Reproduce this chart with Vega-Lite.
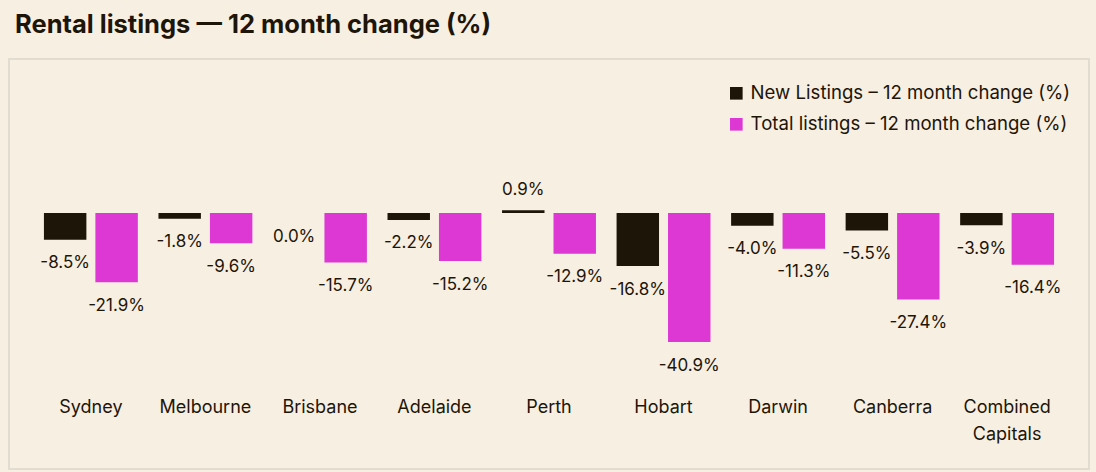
{
  "$schema": "https://vega.github.io/schema/vega-lite/v6.json",
  "width": 1080,
  "height": 410,
  "autosize": {"type": "none"},
  "padding": {"left": 9, "top": 59, "right": 7, "bottom": 3},
  "background": "#f7efe2",
  "title": {
    "text": "Rental listings — 12 month change (%)",
    "anchor": "start",
    "frame": "group",
    "font": "Inter",
    "fontSize": 25.5,
    "fontWeight": "bold",
    "color": "#1e1509",
    "offset": 21,
    "dx": 6
  },
  "config": {
    "view": {"stroke": "#e2dbd0", "strokeWidth": 2},
    "font": "Inter"
  },
  "data": {
    "values": [
      {"city": "Sydney", "series": "New Listings – 12 month change (%)", "v": -8.5},
      {"city": "Sydney", "series": "Total listings – 12 month change (%)", "v": -21.9},
      {"city": "Melbourne", "series": "New Listings – 12 month change (%)", "v": -1.8},
      {"city": "Melbourne", "series": "Total listings – 12 month change (%)", "v": -9.6},
      {"city": "Brisbane", "series": "New Listings – 12 month change (%)", "v": 0.0},
      {"city": "Brisbane", "series": "Total listings – 12 month change (%)", "v": -15.7},
      {"city": "Adelaide", "series": "New Listings – 12 month change (%)", "v": -2.2},
      {"city": "Adelaide", "series": "Total listings – 12 month change (%)", "v": -15.2},
      {"city": "Perth", "series": "New Listings – 12 month change (%)", "v": 0.9},
      {"city": "Perth", "series": "Total listings – 12 month change (%)", "v": -12.9},
      {"city": "Hobart", "series": "New Listings – 12 month change (%)", "v": -16.8},
      {"city": "Hobart", "series": "Total listings – 12 month change (%)", "v": -40.9},
      {"city": "Darwin", "series": "New Listings – 12 month change (%)", "v": -4.0},
      {"city": "Darwin", "series": "Total listings – 12 month change (%)", "v": -11.3},
      {"city": "Canberra", "series": "New Listings – 12 month change (%)", "v": -5.5},
      {"city": "Canberra", "series": "Total listings – 12 month change (%)", "v": -27.4},
      {"city": "Combined Capitals", "series": "New Listings – 12 month change (%)", "v": -3.9},
      {"city": "Combined Capitals", "series": "Total listings – 12 month change (%)", "v": -16.4}
    ]
  },
  "encoding": {
    "x": {
      "field": "city",
      "type": "nominal",
      "scale": {
        "domain": ["Sydney", "Melbourne", "Brisbane", "Adelaide", "Perth", "Hobart", "Darwin", "Canberra", "Combined Capitals"],
        "paddingInner": 0.18,
        "paddingOuter": 0.305
      },
      "axis": {
        "title": null,
        "labelAngle": 0,
        "ticks": false,
        "domain": false,
        "grid": false,
        "labelFontSize": 18,
        "labelColor": "#1e1509",
        "labelFont": "Inter",
        "offset": -71,
        "labelPadding": 0,
        "labelLineHeight": 27,
        "labelBaseline": "top",
        "labelExpr": "datum.label === 'Combined Capitals' ? ['Combined', 'Capitals'] : datum.label"
      }
    },
    "y": {
      "field": "v",
      "type": "quantitative",
      "scale": {"domain": [-81.1, 48.8], "nice": false, "zero": false},
      "axis": null
    }
  },
  "layer": [
    {
      "data": {"values": [{}]},
      "mark": {"type": "rule", "color": "#dcd5ca", "strokeWidth": 2},
      "encoding": {
        "x": {"datum": "Sydney", "type": "nominal", "bandPosition": -0.11},
        "x2": {"datum": "Combined Capitals", "bandPosition": 1.11},
        "y": {"datum": 0, "type": "quantitative"}
      }
    },
    {
      "mark": {"type": "bar"},
      "encoding": {
        "xOffset": {"field": "series", "type": "nominal", "scale": {"paddingInner": 0.175}},
        "color": {
          "field": "series",
          "type": "nominal",
          "scale": {
            "domain": ["New Listings – 12 month change (%)", "Total listings – 12 month change (%)"],
            "range": ["#1e1509", "#dd38d3"]
          },
          "legend": {
            "title": null,
            "orient": "none",
            "legendX": 718,
            "legendY": 25,
            "padding": 0,
            "symbolType": "square",
            "symbolSize": 160,
            "symbolStrokeWidth": 0,
            "labelFontSize": 18.6,
            "labelFont": "Inter",
            "labelColor": "#1e1509",
            "labelLimit": 400,
            "labelOffset": 5,
            "rowPadding": 12
          }
        }
      }
    },
    {
      "transform": [
        {"filter": "datum.v <= 0"},
        {"calculate": "replace(format(datum.v, '.1f'), '\u2212', '-') + '%'", "as": "lbl"}
      ],
      "mark": {"type": "text", "baseline": "middle", "dy": 23.5, "fontSize": 17, "color": "#1e1509"},
      "encoding": {
        "xOffset": {"field": "series", "type": "nominal"},
        "text": {"field": "lbl"}
      }
    },
    {
      "transform": [
        {"filter": "datum.v > 0"},
        {"calculate": "replace(format(datum.v, '.1f'), '\u2212', '-') + '%'", "as": "lbl"}
      ],
      "mark": {"type": "text", "baseline": "middle", "dy": -20.5, "fontSize": 17, "color": "#1e1509"},
      "encoding": {
        "xOffset": {"field": "series", "type": "nominal"},
        "text": {"field": "lbl"}
      }
    }
  ]
}
